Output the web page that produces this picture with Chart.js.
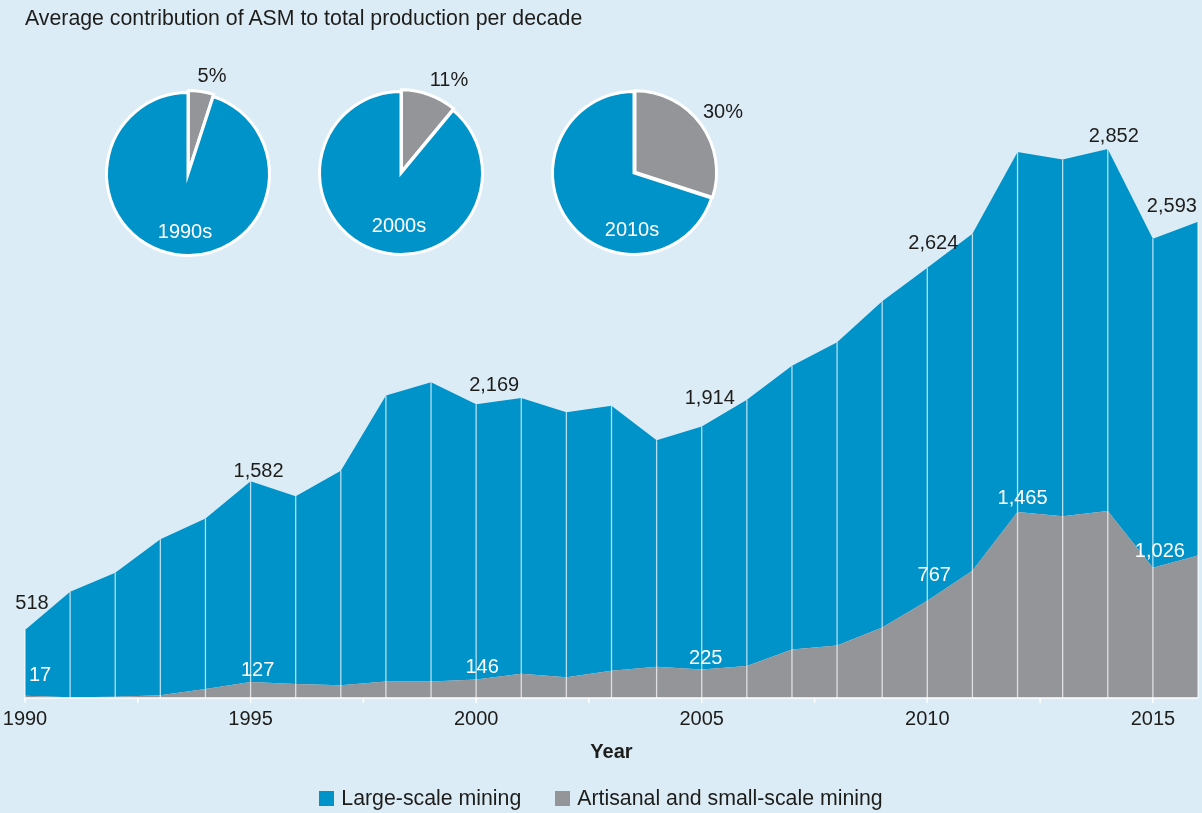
<!DOCTYPE html>
<html>
<head>
<meta charset="utf-8">
<script src="https://cdn.jsdelivr.net/npm/chart.js@4.4.1/dist/chart.umd.min.js"></script>
<style>
html,body{margin:0;padding:0;background:#DCECF6;}
body{width:1202px;height:813px;position:relative;overflow:hidden;font-family:"Liberation Sans",Arial,Helvetica,sans-serif;color:#1d1d1b;}
#main{position:absolute;left:0;top:0;}
#title{position:absolute;left:25px;top:6px;font-size:21.3px;line-height:24px;white-space:nowrap;}
.pie{position:absolute;}
#legend{position:absolute;left:0;width:1202px;top:786px;height:24px;display:flex;justify-content:center;align-items:center;font-size:21.3px;line-height:24px;}
.item{display:flex;align-items:center;}
.sw{width:15px;height:15px;margin-right:7px;}
</style>
</head>
<body>
<canvas id="main" width="1202" height="813"></canvas>
<div id="title">Average contribution of ASM to total production per decade</div>
<canvas class="pie" id="pie0" width="260" height="220"></canvas>
<canvas class="pie" id="pie1" width="260" height="220"></canvas>
<canvas class="pie" id="pie2" width="260" height="220"></canvas>
<div id="legend"></div>
<script>
// ---------- data ----------
const years = [1990,1991,1992,1993,1994,1995,1996,1997,1998,1999,2000,2001,2002,2003,2004,2005,2006,2007,2008,2009,2010,2011,2012,2013,2014,2015,2016];
const lsm = [518,833,978,1229,1345,1582,1479,1690,2252,2357,2169,2174,2089,2088,1785,1914,2099,2236,2389,2570,2624,2656,2837,2811,2852,2593,2631];
const asm = [17,5,10,22,70,127,110,100,131,131,146,191,163,215,246,225,252,383,414,556,767,1002,1465,1433,1474,1026,1123];
const xTickLabels = ['1990','1995','2000','2005','2010','2015'];
const seriesNames = ['Large-scale mining','Artisanal and small-scale mining'];
const decades = ['1990s','2000s','2010s'];
const asmShare = [5,11,30];
const lsmShare = asmShare.map(v => 100 - v);

// ---------- style ----------
const FONT = '"Liberation Sans", Arial, Helvetica, sans-serif';
const BLUE = '#0093C9';
const GREY = '#949599';
const TEXT = '#1d1d1b';

const labelItems = [
  {ds:1, year:1990, dx:7,  dy:-27, color:TEXT},
  {ds:1, year:1995, dx:8,  dy:-10, color:TEXT},
  {ds:1, year:2000, dx:18, dy:-19, color:TEXT},
  {ds:1, year:2005, dx:8,  dy:-28, color:TEXT},
  {ds:1, year:2010, dx:6,  dy:-24, color:TEXT},
  {ds:1, year:2014, dx:6,  dy:-13, color:TEXT},
  {ds:1, year:2015, dx:19, dy:-32, color:TEXT},
  {ds:0, year:1990, dx:15, dy:-20, color:'#ffffff'},
  {ds:0, year:1995, dx:7,  dy:-11, color:'#ffffff'},
  {ds:0, year:2000, dx:6,  dy:-12, color:'#ffffff'},
  {ds:0, year:2005, dx:4,  dy:-11, color:'#ffffff'},
  {ds:0, year:2010, dx:7,  dy:-25, color:'#ffffff'},
  {ds:0, year:2012, dx:5,  dy:-14, color:'#ffffff'},
  {ds:0, year:2015, dx:7,  dy:-16, color:'#ffffff'}
];

const yearLines = {
  id:'yearLines',
  afterDatasetsDraw(chart){
    const ctx = chart.ctx;
    const top = chart.getDatasetMeta(1);
    const xs = chart.scales.x, ys = chart.scales.y;
    const base = ys.getPixelForValue(0);
    ctx.save();
    ctx.strokeStyle = 'rgba(255,255,255,0.7)';
    ctx.lineWidth = 1.3;
    top.data.forEach(p => {
      ctx.beginPath(); ctx.moveTo(p.x, p.y); ctx.lineTo(p.x, base); ctx.stroke();
    });
    ctx.strokeStyle = '#ffffff';
    ctx.lineWidth = 1.5;
    ctx.beginPath(); ctx.moveTo(chart.chartArea.left, base); ctx.lineTo(chart.chartArea.right, base); ctx.stroke();
    for (let k = 0; k <= years.length - 1; k += 2.5) {
      const x = xs.getPixelForValue(k);
      ctx.beginPath(); ctx.moveTo(x, base); ctx.lineTo(x, base + 5); ctx.stroke();
    }
    ctx.restore();
  }
};

const valueLabels = {
  id:'valueLabels',
  afterDatasetsDraw(chart, args, opts){
    const ctx = chart.ctx;
    ctx.save();
    ctx.font = '20px ' + FONT;
    ctx.textAlign = 'center';
    ctx.textBaseline = 'middle';
    opts.items.forEach(it => {
      const i = years.indexOf(it.year);
      const p = chart.getDatasetMeta(it.ds).data[i];
      const v = chart.data.datasets[it.ds].data[i];
      ctx.fillStyle = it.color;
      ctx.fillText(v.toLocaleString('en-US'), p.x + it.dx, p.y + it.dy);
    });
    ctx.restore();
  }
};

new Chart(document.getElementById('main'), {
  type:'line',
  data:{
    labels: years.map(String),
    datasets:[
      {label: seriesNames[1], data: asm, backgroundColor: GREY, borderColor:'transparent', borderWidth:0, fill:'origin', pointRadius:0, tension:0},
      {label: seriesNames[0], data: lsm, backgroundColor: BLUE, borderColor:'transparent', borderWidth:0, fill:'-1', pointRadius:0, tension:0}
    ]
  },
  options:{
    responsive:false,
    animation:false,
    layout:{padding:{top:127, left:25, right:4, bottom:45}},
    scales:{
      x:{
        grid:{display:false, drawTicks:false},
        border:{display:false},
        afterFit:(scale) => { scale.paddingLeft = 0; scale.paddingRight = 0; },
        ticks:{autoSkip:false, maxRotation:0, padding:9, color:TEXT, font:{size:20, family:FONT},
          callback:(v, i) => xTickLabels.includes(String(years[i])) ? String(years[i]) : ''},
        title:{display:true, text:'Year', color:TEXT, font:{size:20, weight:'bold', family:FONT}, padding:{top:0, bottom:4}}
      },
      y:{display:false, stacked:true, min:0, max:4500}
    },
    plugins:{
      legend:{display:false},
      tooltip:{enabled:false},
      valueLabels:{items: labelItems}
    }
  },
  plugins:[yearLines, valueLabels]
});

// ---------- pies ----------
const pieCenters = [[188,174],[401,173],[633.5,173]];
const pieTextOffsets = [
  {d:[-3,58], p:[24,-98]},
  {d:[-2,53], p:[48,-93]},
  {d:[-2,57], p:[89,-61]}
];
const pieText = {
  id:'pieText',
  afterDatasetsDraw(chart, args, opts){
    const a = chart.chartArea, ctx = chart.ctx;
    const cx = (a.left + a.right) / 2, cy = (a.top + a.bottom) / 2;
    ctx.save();
    ctx.font = '20px ' + FONT;
    ctx.textAlign = 'center'; ctx.textBaseline = 'middle';
    ctx.fillStyle = '#ffffff';
    ctx.fillText(opts.decade, cx + opts.d[0], cy + opts.d[1]);
    ctx.fillStyle = TEXT;
    ctx.fillText(opts.pct + '%', cx + opts.p[0], cy + opts.p[1]);
    ctx.restore();
  }
};
decades.forEach((dec, k) => {
  const cv = document.getElementById('pie' + k);
  cv.style.left = (pieCenters[k][0] - 130) + 'px';
  cv.style.top = (pieCenters[k][1] - 110) + 'px';
  new Chart(cv, {
    type:'pie',
    data:{
      labels:[seriesNames[1], seriesNames[0]],
      datasets:[{data:[asmShare[k], lsmShare[k]], backgroundColor:[GREY, BLUE], borderColor:'#ffffff', borderWidth:3, offset:[5,0], borderJoinStyle:'miter'}]
    },
    options:{
      responsive:false, animation:false, radius:81.5,
      layout:{padding:0},
      plugins:{legend:{display:false}, tooltip:{enabled:false},
        pieText:{decade:dec, pct:asmShare[k], d:pieTextOffsets[k].d, p:pieTextOffsets[k].p}}
    },
    plugins:[pieText]
  });
});

// ---------- legend ----------
const lg = document.getElementById('legend');
[[seriesNames[0], BLUE],[seriesNames[1], GREY]].forEach(([name, col], i) => {
  const it = document.createElement('div');
  it.className = 'item';
  if (i > 0) it.style.marginLeft = '34px';
  const sw = document.createElement('div');
  sw.className = 'sw'; sw.style.background = col;
  const tx = document.createElement('span');
  tx.textContent = name;
  it.appendChild(sw); it.appendChild(tx);
  lg.appendChild(it);
});
</script>
</body>
</html>
